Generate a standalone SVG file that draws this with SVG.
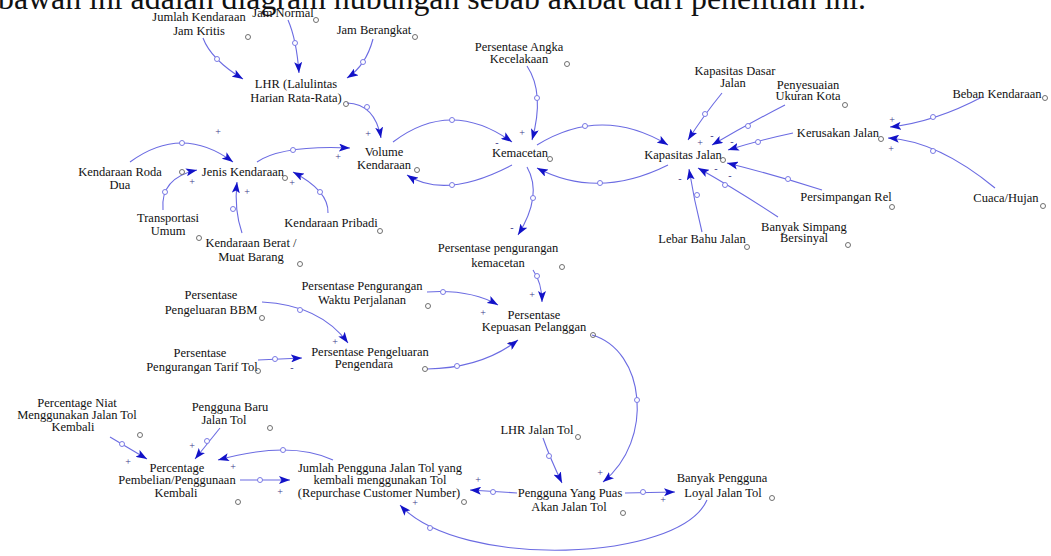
<svg xmlns="http://www.w3.org/2000/svg" width="1051" height="556" viewBox="0 0 1051 556">
<style>
text{font-family:"Liberation Serif","Times New Roman",serif;fill:#111}
.n text{font-size:12.5px;text-anchor:middle}
.c{fill:none;stroke:#6b6be2;stroke-width:1.1}
.a{marker-end:url(#ah)}
.m{fill:#fff;stroke:#7a7ae4;stroke-width:1}
.o{fill:none;stroke:#707070;stroke-width:1}
.s{font-size:10px;fill:#3a3a8a;text-anchor:middle}
</style>
<defs>
<marker id="ah" viewBox="0 0 11 8" refX="11" refY="4" markerWidth="11" markerHeight="8" markerUnits="userSpaceOnUse" orient="auto">
<path d="M0,0 L11,4 L0,8 L2.5,4 z" fill="#1212c8"/>
</marker>
</defs>
<rect width="1051" height="556" fill="#fff"/>
<text x="-2" y="9" font-size="31" textLength="868" lengthAdjust="spacingAndGlyphs">bawah ini adalah diagram hubungan sebab akibat dari penelitian ini.</text>

<g id="connectors">
<path class="c a" d="M203,38 Q211,59.5 243,79"/>
<path class="c a" d="M288,20 Q296.5,39.5 299,73"/>
<path class="c a" d="M373,39 Q366,65.5 347,78"/>
<path class="c a" d="M347,103 Q375,104 381,138"/>
<path class="c a" d="M257,162 Q282,145 350,148"/>
<path class="c a" d="M130,162 Q182,124 233,162"/>
<path class="c a" d="M163,210 Q160,178 197,170"/>
<path class="c a" d="M242,233 Q234,210 237,182"/>
<path class="c a" d="M328,213 Q329,191 293,172"/>
<path class="c a" d="M393,142 Q451,98 512,142"/>
<path class="c a" d="M512,165 Q445,200 407,175"/>
<path class="c a" d="M527,66 Q545,93 532,140"/>
<path class="c a" d="M527,167 Q543,195 518,235"/>
<path class="c a" d="M537,145 Q602,105 668,145"/>
<path class="c a" d="M668,165 Q598,200 537,168"/>
<path class="c a" d="M722,93 Q704,115 688,140"/>
<path class="c a" d="M785,105 Q748,124 712,145"/>
<path class="c a" d="M793,133 Q760,140 728,150"/>
<path class="c a" d="M822,190 Q775,175 727,163"/>
<path class="c a" d="M778,217 Q737,190 698,168"/>
<path class="c a" d="M702,232 Q694,200 689,169"/>
<path class="c a" d="M982,97 Q935,122 890,127"/>
<path class="c a" d="M995,188 Q938,141 888,138"/>
<path class="c a" d="M533,270 Q542,283 542,302"/>
<path class="c a" d="M427,292 Q470,289 498,305"/>
<path class="c a" d="M262,302 Q320,305 348,343"/>
<path class="c a" d="M258,360 L302,358"/>
<path class="c a" d="M427,369 Q482,368 518,340"/>
<path class="c a" d="M592,335 C645,350 655,440 603,482"/>
<path class="c a" d="M543,438 Q550,458 562,483"/>
<path class="c a" d="M625,493 L675,492"/>
<path class="c a" d="M517,493 L470,490"/>
<path class="c a" d="M707,500 C680,562 460,570 400,505"/>
<path class="c a" d="M110,437 L147,459"/>
<path class="c a" d="M220,428 L195,459"/>
<path class="c a" d="M333,460 Q290,440 218,460"/>
<path class="c a" d="M240,480 L290,480"/>

<circle class="m" cx="217" cy="59" r="2.5"/>
<circle class="m" cx="295" cy="43" r="2.5"/>
<circle class="m" cx="363" cy="62" r="2.5"/>
<circle class="m" cx="367" cy="107" r="2.5"/>
<circle class="m" cx="293" cy="150" r="2.5"/>
<circle class="m" cx="182" cy="143" r="2.5"/>
<circle class="m" cx="165" cy="192" r="2.5"/>
<circle class="m" cx="233" cy="209" r="2.5"/>
<circle class="m" cx="320" cy="192" r="2.5"/>
<circle class="m" cx="452" cy="120" r="2.5"/>
<circle class="m" cx="452" cy="185" r="2.5"/>
<circle class="m" cx="537" cy="98" r="2.5"/>
<circle class="m" cx="533" cy="198" r="2.5"/>
<circle class="m" cx="585" cy="126" r="2.5"/>
<circle class="m" cx="600" cy="183" r="2.5"/>
<circle class="m" cx="705" cy="114" r="2.5"/>
<circle class="m" cx="748" cy="126" r="2.5"/>
<circle class="m" cx="758" cy="142" r="2.5"/>
<circle class="m" cx="788" cy="179" r="2.5"/>
<circle class="m" cx="725" cy="185" r="2.5"/>
<circle class="m" cx="697" cy="195" r="2.5"/>
<circle class="m" cx="933" cy="117" r="2.5"/>
<circle class="m" cx="933" cy="151" r="2.5"/>
<circle class="m" cx="537" cy="276" r="2.5"/>
<circle class="m" cx="443" cy="292" r="2.5"/>
<circle class="m" cx="300" cy="310" r="2.5"/>
<circle class="m" cx="275" cy="359" r="2.5"/>
<circle class="m" cx="457" cy="366" r="2.5"/>
<circle class="m" cx="637" cy="400" r="2.5"/>
<circle class="m" cx="549" cy="456" r="2.5"/>
<circle class="m" cx="643" cy="492" r="2.5"/>
<circle class="m" cx="493" cy="492" r="2.5"/>
<circle class="m" cx="430" cy="528" r="2.5"/>
<circle class="m" cx="122" cy="444" r="2.5"/>
<circle class="m" cx="207" cy="441" r="2.5"/>
<circle class="m" cx="283" cy="450" r="2.5"/>
<circle class="m" cx="260" cy="480" r="2.5"/>

<text class="s" x="368" y="137">+</text>
<text class="s" x="338" y="160">+</text>
<text class="s" x="218" y="135">+</text>
<text class="s" x="192" y="185">+</text>
<text class="s" x="247" y="195">+</text>
<text class="s" x="292" y="186">+</text>
<text class="s" x="522" y="136">+</text>
<text class="s" x="497" y="146">-</text>
<text class="s" x="512" y="231">-</text>
<text class="s" x="700" y="146">+</text>
<text class="s" x="712" y="139">-</text>
<text class="s" x="732" y="145">-</text>
<text class="s" x="716" y="172">-</text>
<text class="s" x="730" y="179">-</text>
<text class="s" x="680" y="182">-</text>
<text class="s" x="892" y="123">+</text>
<text class="s" x="891" y="152">+</text>
<text class="s" x="532" y="298">+</text>
<text class="s" x="483" y="316">+</text>
<text class="s" x="335" y="345">+</text>
<text class="s" x="292" y="371">-</text>
<text class="s" x="510" y="345">-</text>
<text class="s" x="600" y="476">+</text>
<text class="s" x="663" y="503">+</text>
<text class="s" x="478" y="483">+</text>
<text class="s" x="415" y="506">+</text>
<text class="s" x="128" y="465">+</text>
<text class="s" x="192" y="449">+</text>
<text class="s" x="233" y="470">+</text>
<text class="s" x="280" y="495">+</text>
</g>

<g id="n-jumlah-kendaraan" class="n"><text x="199" y="21">Jumlah Kendaraan</text><text x="199" y="35">Jam Kritis</text><circle class="o" cx="248" cy="37" r="2.5"/></g>
<g id="n-jam-normal" class="n"><text x="283" y="17">Jam Normal</text><circle class="o" cx="316" cy="20" r="2.5"/></g>
<g id="n-jam-berangkat" class="n"><text x="374" y="34">Jam Berangkat</text><circle class="o" cx="415" cy="37" r="2.5"/></g>
<g id="n-lhr" class="n"><text x="296" y="88">LHR (Lalulintas</text><text x="296" y="102">Harian Rata-Rata)</text><circle class="o" cx="346" cy="104" r="2.5"/></g>
<g id="n-persentase-angka" class="n"><text x="519" y="51">Persentase Angka</text><text x="519" y="63">Kecelakaan</text><circle class="o" cx="567" cy="64" r="2.5"/></g>
<g id="n-kapasitas-dasar" class="n"><text x="735" y="75">Kapasitas Dasar</text><text x="733" y="87">Jalan</text></g>
<g id="n-penyesuaian" class="n"><text x="808" y="89">Penyesuaian</text><text x="808" y="100">Ukuran Kota</text><circle class="o" cx="845" cy="105" r="2.5"/></g>
<g id="n-beban" class="n"><text x="997" y="98">Beban Kendaraan</text><circle class="o" cx="1045" cy="98" r="2.5"/></g>
<g id="n-kerusakan" class="n"><text x="838" y="137">Kerusakan Jalan</text><circle class="o" cx="881" cy="139" r="2.5"/></g>
<g id="n-volume" class="n"><text x="384" y="156">Volume</text><text x="384" y="169">Kendaraan</text><circle class="o" cx="417" cy="170" r="2.5"/></g>
<g id="n-jenis" class="n"><text x="243" y="176">Jenis Kendaraan</text><circle class="o" cx="285" cy="178" r="2.5"/></g>
<g id="n-roda-dua" class="n"><text x="120" y="176">Kendaraan Roda</text><text x="120" y="189">Dua</text><circle class="o" cx="182" cy="172" r="2.5"/></g>
<g id="n-transportasi" class="n"><text x="168" y="222">Transportasi</text><text x="168" y="235">Umum</text></g>
<g id="n-berat" class="n"><text x="251" y="247">Kendaraan Berat /</text><text x="251" y="261">Muat Barang</text><circle class="o" cx="199" cy="238" r="2.5"/><circle class="o" cx="300" cy="264" r="2.5"/></g>
<g id="n-pribadi" class="n"><text x="331" y="227">Kendaraan Pribadi</text><circle class="o" cx="380" cy="231" r="2.5"/></g>
<g id="n-kemacetan" class="n"><text x="520" y="157">Kemacetan</text><circle class="o" cx="550" cy="159" r="2.5"/></g>
<g id="n-kapasitas" class="n"><text x="683" y="159">Kapasitas Jalan</text><circle class="o" cx="723" cy="160" r="2.5"/></g>
<g id="n-persimpangan" class="n"><text x="846" y="201">Persimpangan Rel</text><circle class="o" cx="892" cy="207" r="2.5"/></g>
<g id="n-cuaca" class="n"><text x="1006" y="202">Cuaca/Hujan</text><circle class="o" cx="1043" cy="206" r="2.5"/></g>
<g id="n-banyak-simpang" class="n"><text x="804" y="231">Banyak Simpang</text><text x="804" y="242">Bersinyal</text><circle class="o" cx="848" cy="245" r="2.5"/></g>
<g id="n-lebar-bahu" class="n"><text x="702" y="243">Lebar Bahu Jalan</text><circle class="o" cx="747" cy="247" r="2.5"/></g>
<g id="n-pengurangan-kemacetan" class="n"><text x="498" y="252">Persentase pengurangan</text><text x="498" y="267">kemacetan</text><circle class="o" cx="562" cy="267" r="2.5"/></g>
<g id="n-waktu" class="n"><text x="362" y="290">Persentase Pengurangan</text><text x="362" y="304">Waktu Perjalanan</text><circle class="o" cx="428" cy="306" r="2.5"/></g>
<g id="n-bbm" class="n"><text x="211" y="299">Persentase</text><text x="211" y="314">Pengeluaran BBM</text><circle class="o" cx="262" cy="318" r="2.5"/></g>
<g id="n-kepuasan" class="n"><text x="534" y="319">Persentase</text><text x="534" y="331">Kepuasan Pelanggan</text><circle class="o" cx="593" cy="335" r="2.5"/></g>
<g id="n-pengendara" class="n"><text x="370" y="356">Persentase Pengeluaran</text><text x="364" y="368">Pengendara</text><circle class="o" cx="425" cy="369" r="2.5"/></g>
<g id="n-tarif" class="n"><text x="200" y="357">Persentase</text><text x="202" y="371">Pengurangan Tarif Tol</text><circle class="o" cx="258" cy="371" r="2.5"/></g>
<g id="n-niat" class="n"><text x="77" y="407">Percentage Niat</text><text x="77" y="419">Menggunakan Jalan Tol</text><text x="73" y="431">Kembali</text><circle class="o" cx="140" cy="435" r="2.5"/></g>
<g id="n-pengguna-baru" class="n"><text x="230" y="411">Pengguna Baru</text><text x="224" y="424">Jalan Tol</text><circle class="o" cx="270" cy="428" r="2.5"/></g>
<g id="n-pembelian" class="n"><text x="177" y="472">Percentage</text><text x="177" y="484">Pembelian/Penggunaan</text><text x="176" y="497">Kembali</text><circle class="o" cx="238" cy="502" r="2.5"/></g>
<g id="n-jumlah-pengguna" class="n"><text x="380" y="472">Jumlah Pengguna Jalan Tol yang</text><text x="380" y="484">kembali menggunakan Tol</text><text x="379" y="497">(Repurchase Customer Number)</text><circle class="o" cx="464" cy="502" r="2.5"/></g>
<g id="n-lhr-tol" class="n"><text x="537" y="434">LHR Jalan Tol</text><circle class="o" cx="578" cy="437" r="2.5"/></g>
<g id="n-pengguna-puas" class="n"><text x="570" y="497">Pengguna Yang Puas</text><text x="569" y="511">Akan Jalan Tol</text><circle class="o" cx="623" cy="513" r="2.5"/></g>
<g id="n-banyak-pengguna" class="n"><text x="722" y="482">Banyak Pengguna</text><text x="723" y="497">Loyal Jalan Tol</text><circle class="o" cx="772" cy="498" r="2.5"/></g>
</svg>
